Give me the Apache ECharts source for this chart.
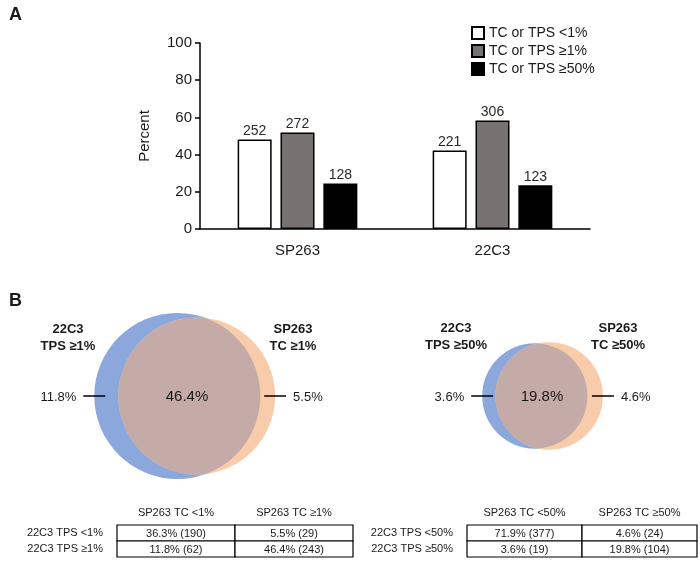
<!DOCTYPE html>
<html><head><meta charset="utf-8">
<script src="https://cdn.jsdelivr.net/npm/echarts@6/dist/echarts.min.js"></script>
<style>html,body{margin:0;padding:0;background:#fff}#c{width:700px;height:564px}</style>
</head><body><div id="c"></div>
<script>
// ---- Panel A data ----
const categories = ['SP263', '22C3'];
const seriesNames = ['TC or TPS <1%', 'TC or TPS \u22651%', 'TC or TPS \u226550%'];
const pctLt1 = [48.1, 42.2];
const pctGe1 = [51.9, 58.4];
const pctGe50 = [24.4, 23.5];
const nLt1 = [252, 221];
const nGe1 = [272, 306];
const nGe50 = [128, 123];
const yMin = 0, yMax = 100, yStep = 20;

// ---- Panel B Venn data: [22C3 only, both, SP263 only] ----
const venn1Values = [11.8, 46.4, 5.5];
const venn2Values = [3.6, 19.8, 4.6];
const venn1Titles = [['22C3', 'TPS \u22651%'], ['SP263', 'TC \u22651%']];
const venn2Titles = [['22C3', 'TPS \u226550%'], ['SP263', 'TC \u226550%']];

// ---- Panel B tables ----
const table1Cols = ['SP263 TC <1%', 'SP263 TC \u22651%'];
const table1Rows = ['22C3 TPS <1%', '22C3 TPS \u22651%'];
const table1Cells = [['36.3% (190)', '5.5% (29)'], ['11.8% (62)', '46.4% (243)']];
const table2Cols = ['SP263 TC <50%', 'SP263 TC \u226550%'];
const table2Rows = ['22C3 TPS <50%', '22C3 TPS \u226550%'];
const table2Cells = [['71.9% (377)', '4.6% (24)'], ['3.6% (19)', '19.8% (104)']];

const FONT = 'Liberation Sans, Arial, sans-serif';
const TXT = '#1a1a1a';
const BLUE = '#8ba7dc', PEACH = '#f8ccaa', OVER = '#c4aba8';

function overlapArea(r1, r2, d) {
  if (d >= r1 + r2) return 0;
  if (d <= Math.abs(r1 - r2)) return Math.PI * Math.min(r1, r2) ** 2;
  const a1 = r1 * r1 * Math.acos((d * d + r1 * r1 - r2 * r2) / (2 * d * r1));
  const a2 = r2 * r2 * Math.acos((d * d + r2 * r2 - r1 * r1) / (2 * d * r2));
  const k = 0.5 * Math.sqrt((-d + r1 + r2) * (d + r1 - r2) * (d - r1 + r2) * (d + r1 + r2));
  return a1 + a2 - k;
}
function solveDist(r1, r2, target) {
  let lo = Math.abs(r1 - r2) + 1e-9, hi = r1 + r2;
  for (let i = 0; i < 80; i++) {
    const mid = (lo + hi) / 2;
    if (overlapArea(r1, r2, mid) > target) lo = mid; else hi = mid;
  }
  return (lo + hi) / 2;
}
function txt(text, x, y, align, size, weight) {
  return { type: 'text', style: { text: text, x: x, y: y, align: align, textAlign: align,
    verticalAlign: 'middle', textVerticalAlign: 'middle', fill: TXT,
    font: (weight || 'normal') + ' ' + size + 'px ' + FONT } };
}
function vennRender(params, api) {
  const A = api.value(0), B = api.value(1), C = api.value(2);
  const r1 = Math.sqrt((A + B) / Math.PI), r2 = Math.sqrt((B + C) / Math.PI);
  const d = solveDist(r1, r2, B);
  const c1 = api.coord([-d / 2, 0]), c2 = api.coord([d / 2, 0]);
  const R1 = api.size([r1, 0])[0], R2 = api.size([r2, 0])[0];
  const cy = c1[1];
  const D = c2[0] - c1[0];
  const a = (D * D + R1 * R1 - R2 * R2) / (2 * D);
  const h = Math.sqrt(Math.max(R1 * R1 - a * a, 0));
  const px = c1[0] + a;
  const l1 = a < 0 ? 1 : 0, l2 = (D - a) < 0 ? 1 : 0;
  const path = 'M' + px + ' ' + (cy - h) + ' A' + R1 + ' ' + R1 + ' 0 ' + l1 + ' 1 ' + px + ' ' + (cy + h) +
    ' A' + R2 + ' ' + R2 + ' 0 ' + l2 + ' 1 ' + px + ' ' + (cy - h) + ' Z';
  const lx = c1[0] - R1, rx = c2[0] + R2;
  return { type: 'group', children: [
    { type: 'circle', shape: { cx: c1[0], cy: cy, r: R1 }, style: { fill: BLUE } },
    { type: 'circle', shape: { cx: c2[0], cy: cy, r: R2 }, style: { fill: PEACH } },
    { type: 'path', shape: { pathData: path }, style: { fill: OVER } },
    { type: 'line', shape: { x1: lx - 11, y1: cy, x2: lx + 11, y2: cy }, style: { stroke: '#000', lineWidth: 1.5 } },
    { type: 'line', shape: { x1: rx - 11, y1: cy, x2: rx + 11, y2: cy }, style: { stroke: '#000', lineWidth: 1.5 } },
    txt(A.toFixed(1) + '%', lx - 18, cy + 1, 'right', 13),
    txt(C.toFixed(1) + '%', rx + 18, cy + 1, 'left', 13),
    txt(B.toFixed(1) + '%', (c1[0] + c2[0]) / 2, cy + 1, 'center', 15)
  ]};
}
function tableRender(params, api) {
  const c = api.coord([api.value(0), api.value(1)]);
  const s = api.size([1, 1]);
  return { type: 'group', children: [
    { type: 'rect', shape: { x: c[0] - s[0] / 2, y: c[1] - s[1] / 2, width: s[0], height: s[1] },
      style: { fill: '#fff', stroke: '#000', lineWidth: 1.2 } },
    txt(api.value(2), c[0], c[1] + 0.5, 'center', 11)
  ]};
}
function tableData(cells) {
  const out = [];
  cells.forEach((row, ri) => row.forEach((t, ci) => out.push([ci, ri, t])));
  return out;
}

const chart = echarts.init(document.getElementById('c'), null, { renderer: 'canvas' });
const hiddenVal = (min, max, gi) => ({ type: 'value', gridIndex: gi, min: min, max: max, show: false });
const barStyle = (color) => ({ color: color, borderColor: '#000', borderWidth: 1.5 });
const barLabel = (counts) => ({ show: true, position: 'top', distance: 1, fontSize: 14, color: '#2a2a2a', fontFamily: FONT,
  formatter: (p) => String(counts[p.dataIndex]) });

chart.setOption({
  animation: false,
  textStyle: { fontFamily: FONT },
  grid: [
    { left: 200, top: 43, width: 390, height: 186 },
    { left: 52, top: 261, width: 270, height: 270 },
    { left: 407, top: 261, width: 270, height: 270 },
    { left: 117, top: 525, width: 236, height: 32 },
    { left: 467, top: 525, width: 230, height: 32 }
  ],
  legend: {
    data: seriesNames, orient: 'vertical', left: 466, top: 21, itemWidth: 12, itemHeight: 12, itemGap: 4,
    icon: 'rect', textStyle: { fontSize: 14, color: TXT, fontFamily: FONT }, selectedMode: false
  },
  xAxis: [
    { type: 'category', gridIndex: 0, data: categories,
      axisLine: { lineStyle: { color: '#000', width: 1.5 } }, axisTick: { show: false },
      axisLabel: { fontSize: 15, color: TXT, margin: 14 } },
    hiddenVal(-7, 7, 1),
    hiddenVal(-7, 7, 2),
    { type: 'category', gridIndex: 3, data: table1Cols, position: 'top',
      axisLine: { show: false }, axisTick: { show: false }, axisLabel: { fontSize: 11, color: TXT, margin: 7 } },
    { type: 'category', gridIndex: 4, data: table2Cols, position: 'top',
      axisLine: { show: false }, axisTick: { show: false }, axisLabel: { fontSize: 11, color: TXT, margin: 7 } }
  ],
  yAxis: [
    { type: 'value', gridIndex: 0, min: yMin, max: yMax, interval: yStep,
      name: 'Percent', nameLocation: 'middle', nameGap: 48, nameTextStyle: { fontSize: 15, color: TXT },
      axisLine: { show: true, lineStyle: { color: '#000', width: 1.5 } },
      axisTick: { show: true, length: 5, lineStyle: { color: '#000', width: 1.5 } },
      axisLabel: { fontSize: 15, color: TXT, margin: 8 }, splitLine: { show: false } },
    hiddenVal(-7, 7, 1),
    hiddenVal(-7, 7, 2),
    { type: 'category', gridIndex: 3, data: table1Rows, inverse: true,
      axisLine: { show: false }, axisTick: { show: false }, axisLabel: { fontSize: 11, color: TXT, margin: 14 } },
    { type: 'category', gridIndex: 4, data: table2Rows, inverse: true,
      axisLine: { show: false }, axisTick: { show: false }, axisLabel: { fontSize: 11, color: TXT, margin: 14 } }
  ],
  graphic: [
    { type: 'text', left: 9, top: 6, style: { text: 'A', font: 'bold 18px ' + FONT, fill: TXT } },
    { type: 'text', left: 9, top: 292, style: { text: 'B', font: 'bold 18px ' + FONT, fill: TXT } },
    { type: 'text', x: 68, y: 338, style: { text: venn1Titles[0].join('\n'), align: 'center', verticalAlign: 'middle', font: 'bold 13px ' + FONT, fill: TXT, lineHeight: 17 } },
    { type: 'text', x: 293, y: 338, style: { text: venn1Titles[1].join('\n'), align: 'center', verticalAlign: 'middle', font: 'bold 13px ' + FONT, fill: TXT, lineHeight: 17 } },
    { type: 'text', x: 456, y: 337, style: { text: venn2Titles[0].join('\n'), align: 'center', verticalAlign: 'middle', font: 'bold 13px ' + FONT, fill: TXT, lineHeight: 17 } },
    { type: 'text', x: 618, y: 337, style: { text: venn2Titles[1].join('\n'), align: 'center', verticalAlign: 'middle', font: 'bold 13px ' + FONT, fill: TXT, lineHeight: 17 } }
  ],
  series: [
    { name: seriesNames[0], type: 'bar', xAxisIndex: 0, yAxisIndex: 0, data: pctLt1, barWidth: 34, barGap: '26%',
      itemStyle: barStyle('#ffffff'), label: barLabel(nLt1) },
    { name: seriesNames[1], type: 'bar', xAxisIndex: 0, yAxisIndex: 0, data: pctGe1, barWidth: 34, barGap: '26%',
      itemStyle: barStyle('#77716f'), label: barLabel(nGe1) },
    { name: seriesNames[2], type: 'bar', xAxisIndex: 0, yAxisIndex: 0, data: pctGe50, barWidth: 34, barGap: '26%',
      itemStyle: barStyle('#000000'), label: barLabel(nGe50) },
    { type: 'custom', xAxisIndex: 1, yAxisIndex: 1, renderItem: vennRender, data: [venn1Values], silent: true },
    { type: 'custom', xAxisIndex: 2, yAxisIndex: 2, renderItem: vennRender, data: [venn2Values], silent: true },
    { type: 'custom', xAxisIndex: 3, yAxisIndex: 3, renderItem: tableRender, data: tableData(table1Cells), silent: true },
    { type: 'custom', xAxisIndex: 4, yAxisIndex: 4, renderItem: tableRender, data: tableData(table2Cells), silent: true }
  ]
});
</script></body></html>
